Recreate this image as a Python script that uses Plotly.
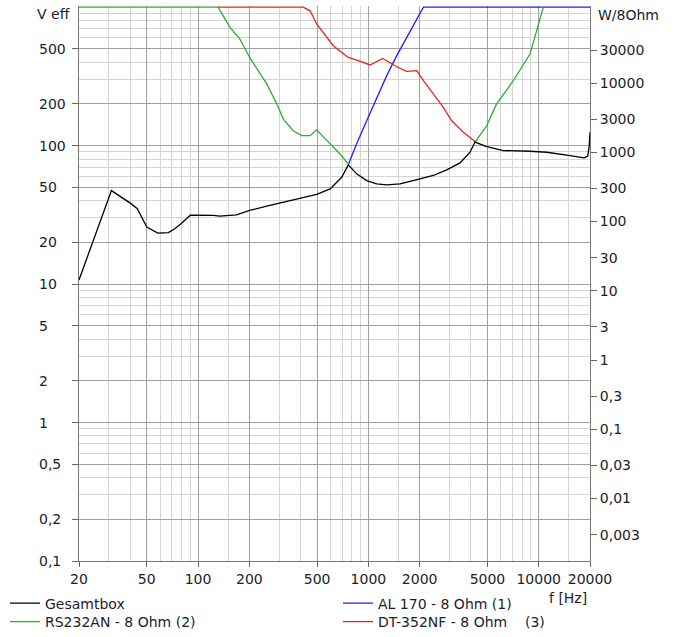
import numpy as np
import plotly.graph_objects as go

# ---------------- data ----------------
freq_black = [20, 31, 40, 44, 50, 58, 67, 73, 80, 90, 123, 134, 168, 201, 253, 303, 396, 497,
              596, 697, 762, 853, 977, 1119, 1281, 1534, 2009, 2405, 2883, 3451, 3953, 4226,
              4951, 6199, 8890, 11140, 15280, 18500, 19400, 19800, 20000]
volt_black = [10.7, 47.3, 38.4, 35.0, 25.8, 23.3, 23.5, 25.1, 27.5, 31.4, 31.3, 30.9, 31.6, 34.0,
              36.6, 38.6, 41.8, 44.5, 48.7, 59.0, 72.6, 62.5, 55.9, 52.9, 52.1, 52.9, 57.5, 60.8,
              66.8, 75.0, 89.5, 106.0, 98.4, 92.0, 91.0, 89.5, 84.7, 81.5, 84.0, 100.0, 125.0]

freq_blue = [762, 853, 977, 1119, 1281, 1467, 1678, 1880, 2104, 20000]
volt_blue = [72.6, 103, 151, 223, 320, 446, 604, 796, 1000, 1000]

freq_green = [20, 131, 154, 176, 201, 253, 290, 316, 362, 406, 455, 497, 570, 681, 762,
              None,
              4226, 4951, 5660, 7090, 8890, 9950, 10640]
volt_green = [1000, 1000, 713, 588, 433, 279, 200, 156, 128, 118, 118, 130, 109, 87, 73.8,
              None,
              106, 139, 200, 294, 458, 755, 1000]

freq_red = [131, 415, 455, 497, 622, 762, 873, 1022, 1213, 1467, 1678, 1921, 2104, 2405, 2755,
            3085, 3608, 4226]
volt_red = [1000, 1000, 940, 755, 526, 433, 410, 382, 426, 371, 344, 348, 294, 236, 189,
            151, 125, 107]

x_major = [20, 50, 100, 200, 500, 1000, 2000, 5000, 10000, 20000]
x_minor = [30, 40, 60, 70, 80, 90, 150, 300, 400, 600, 700, 800, 900, 1500, 3000, 4000,
           6000, 7000, 8000, 9000, 15000]
y_major = [0.1, 0.2, 0.5, 1, 2, 5, 10, 20, 50, 100, 200, 500]
y_minor = [0.3, 0.4, 0.6, 0.7, 0.8, 0.9, 3, 4, 6, 7, 8, 9, 30, 40, 60, 70, 80, 90,
           300, 400, 600, 700, 800, 900]
w_ticks = [0.003, 0.01, 0.03, 0.1, 0.3, 1, 3, 10, 30, 100, 300, 1000, 3000, 10000, 30000]

V_MIN, V_MAX = 0.1, 1000
R_LOAD = 8


def de(v):
    return f"{v:g}".replace(".", ",")


FONT = "DejaVu Sans"
TXT = "#1c1c28"
MAJOR = "#a0a0a0"
MINOR = "#d4d4d4"

fig = go.Figure()
fig.add_trace(go.Scatter(x=freq_blue, y=volt_blue, mode="lines", name="AL 170 - 8 Ohm (1)",
                         line=dict(color="#1e1eff", width=1.3), legend="legend2"))
fig.add_trace(go.Scatter(x=freq_green, y=volt_green, mode="lines", name="RS232AN - 8 Ohm (2)",
                         line=dict(color="#2eaa2e", width=1.3), legend="legend3"))
fig.add_trace(go.Scatter(x=freq_red, y=volt_red, mode="lines",
                         name="DT-352NF - 8 Ohm\u00a0\u00a0\u00a0\u00a0(3)",
                         line=dict(color="#e02525", width=1.3), legend="legend4"))
fig.add_trace(go.Scatter(x=freq_black, y=volt_black, mode="lines", name="Gesamtbox",
                         line=dict(color="#000000", width=1.3), legend="legend"))
# power scale companion (invisible) so the right axis is bound to data
fig.add_trace(go.Scatter(x=freq_black, y=[v * v / R_LOAD for v in volt_black], mode="none",
                         yaxis="y2", showlegend=False, hoverinfo="skip"))

ylo, yhi = np.log10(V_MIN), np.log10(V_MAX) + 0.008
legend_common = dict(xref="container", yref="container", xanchor="left",
                     yanchor="top", orientation="v", bgcolor="rgba(0,0,0,0)",
                     font=dict(family=FONT, size=14, color=TXT))
COL1, COL2 = 5 / 677, 338 / 677
ROW1, ROW2 = 1 - 587.5 / 637, 1 - 606 / 637
fig.update_layout(
    width=677, height=637,
    margin=dict(l=79, r=87, t=6, b=76, autoexpand=False),
    paper_bgcolor="white", plot_bgcolor="white",
    font=dict(family=FONT, size=14, color=TXT),
    showlegend=True,
    xaxis=dict(type="log", range=[np.log10(20), np.log10(20000)],
               tickvals=x_major, ticktext=[de(v) for v in x_major],
               showgrid=True, gridcolor=MAJOR, gridwidth=1,
               ticks="outside", ticklen=5, tickcolor="#666",
               showline=True, linecolor="#777", linewidth=1, zeroline=False,
               minor=dict(tickvals=x_minor, showgrid=True, gridcolor=MINOR, ticks=""),
               tickfont=dict(family=FONT, size=14, color=TXT), automargin=False),
    yaxis=dict(type="log", range=[ylo, yhi],
               tickvals=y_major, showticklabels=False,
               showgrid=True, gridcolor=MAJOR, gridwidth=1,
               ticks="outside", ticklen=6, tickcolor="#666",
               showline=True, linecolor="#777", linewidth=1, zeroline=False,
               minor=dict(tickvals=y_minor, showgrid=True, gridcolor=MINOR, ticks=""),
               automargin=False),
    yaxis2=dict(type="log", overlaying="y", side="right",
                range=[2 * ylo - np.log10(R_LOAD), 2 * yhi - np.log10(R_LOAD)],
                tickvals=w_ticks, ticktext=[de(v) for v in w_ticks],
                showgrid=False, ticks="outside", ticklen=6, tickcolor="#666",
                showline=True, linecolor="#777", linewidth=1, zeroline=False,
                tickfont=dict(family=FONT, size=14, color=TXT), automargin=False),
    legend=dict(legend_common, x=COL1, y=ROW1),
    legend2=dict(legend_common, x=COL2, y=ROW1),
    legend3=dict(legend_common, x=COL1, y=ROW2),
    legend4=dict(legend_common, x=COL2, y=ROW2),
)

annotations = []
for v in y_major:
    annotations.append(dict(x=0, xref="paper", y=np.log10(v), yref="y", text=de(v),
                            xanchor="left", yanchor="middle", xshift=-42, showarrow=False,
                            font=dict(family=FONT, size=14, color=TXT)))
annotations.append(dict(x=0, xref="paper", y=1, yref="paper", text="V eff", xanchor="left",
                        yanchor="middle", xshift=-44, yshift=-8, showarrow=False,
                        font=dict(family=FONT, size=14, color=TXT)))
annotations.append(dict(x=1, xref="paper", y=1, yref="paper", text="W/8Ohm", xanchor="left",
                        yanchor="middle", xshift=6, yshift=-9, showarrow=False,
                        font=dict(family=FONT, size=14, color=TXT)))
annotations.append(dict(x=1, xref="paper", y=0, yref="paper", text="f [Hz]", xanchor="right",
                        yanchor="middle", xshift=-1, yshift=-37, showarrow=False,
                        font=dict(family=FONT, size=14, color=TXT)))
fig.update_layout(annotations=annotations)

fig.write_html("out.html", config={"displayModeBar": False},
               post_script="document.body.style.margin='0';document.body.style.padding='0';")
